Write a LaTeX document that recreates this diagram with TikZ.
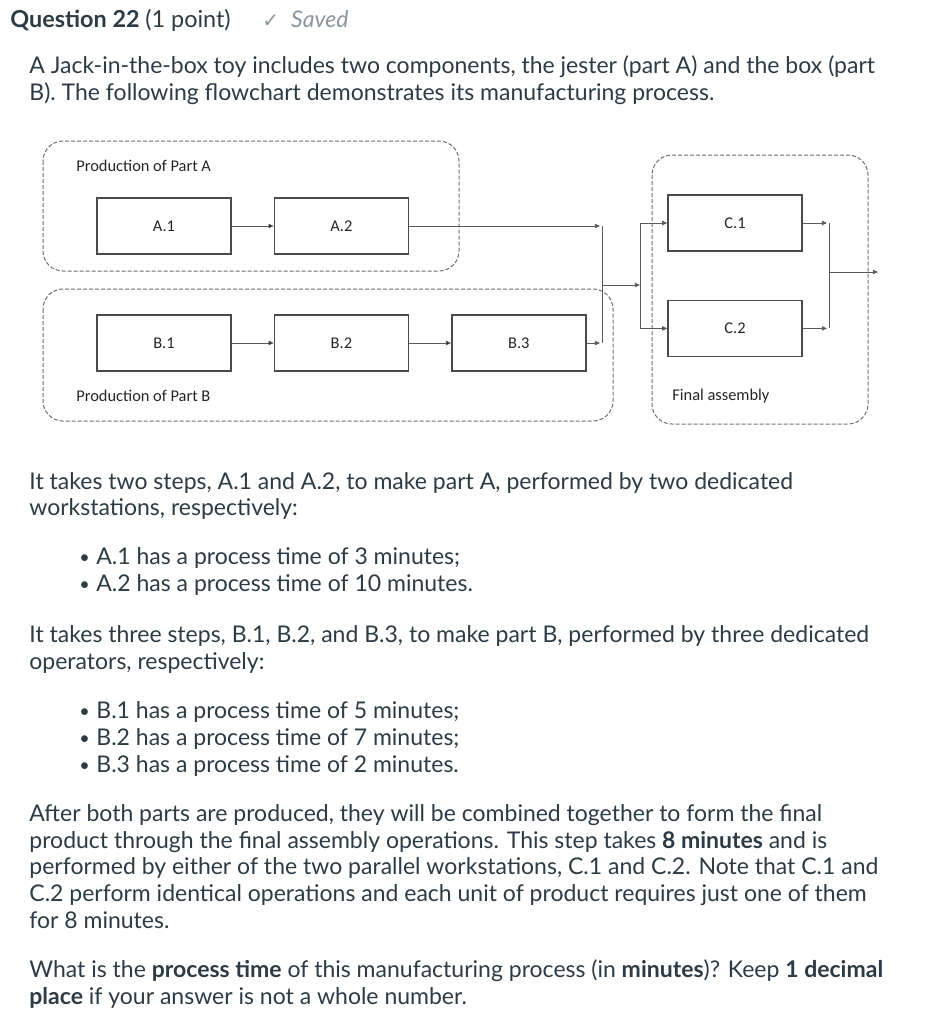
\documentclass[tikz,border=0pt]{standalone}
\usepackage{fontspec}
\setmainfont{Lato}
\newfontfamily\boxfont{Carlito}
\newfontfamily\symfont{DejaVu Sans}
\usetikzlibrary{positioning,arrows.meta}
\definecolor{ink}{HTML}{2D3B45}
\definecolor{muted}{HTML}{8B969E}
\definecolor{edge}{HTML}{4A4A4A}
\definecolor{dash}{HTML}{6E6E6E}
\definecolor{wire}{HTML}{5A5A5A}

\begin{document}
\begin{tikzpicture}[
  x=0.5pt, y=-0.5pt,
  stepbox/.style = {
    draw = edge,
    line width = 0.7pt,
    minimum width = 67pt,
    minimum height = 28pt,
    inner sep = 0pt,
    font = \boxfont\fontsize{8.2}{9}\selectfont,
    text = black!85,
  },
  group/.style = {
    draw = dash,
    line width = 0.5pt,
    dash pattern = on 2pt off 1pt,
    rounded corners = 10pt,
  },
  grouplabel/.style = {
    anchor = west,
    inner sep = 0pt,
    font = \boxfont\fontsize{8.2}{9}\selectfont,
    text = black!85,
  },
  flow/.style = {draw = wire, line width = 0.45pt},
  para/.style = {
    anchor = base west,
    inner sep = 0pt,
    font = \fontsize{11.5}{13}\selectfont,
    text = ink,
  },
  dot/.style = {
    anchor = base west,
    inner sep = 0pt,
    font = \fontsize{9}{11}\selectfont,
    text = ink,
  },
  >={Triangle[length=2.6pt,width=2.2pt]},
]
  \useasboundingbox[fill=white] (0,0) rectangle (931,1024);

  % heading
  \node[para, font=\bfseries\fontsize{11.7}{13}\selectfont] (head) at (10,27) {Question 22 {\mdseries (1 point)}};
  \node[para, text=muted] (saved) at (262,27) {{\symfont\fontsize{10}{11}\selectfont ✓}\hspace{6pt}\itshape Saved};

  \node[para] (intro1) at (29,73) {A Jack-in-the-box toy includes two components, the jester (part A) and the box (part};
  \node[para] (intro2) at (29,100) {B). The following flowchart demonstrates its manufacturing process.};

  % groups
  \draw[group] (43,141) rectangle (459,271);
  \draw[group] (43,289) rectangle (613,421);
  \draw[group] (652,155) rectangle (868,424);
  \node[grouplabel] (labA) at (76,166) {Production of Part A};
  \node[grouplabel] (labB) at (76,396) {Production of Part B};
  \node[grouplabel] (labC) at (672,396) {Final assembly};

  % steps
  \node[stepbox] (a1) at (164,226) {A.1};
  \node[stepbox] (a2) [right=21pt of a1] {A.2};
  \node[stepbox] (b1) at (164,343) {B.1};
  \node[stepbox] (b2) [right=21pt of b1] {B.2};
  \node[stepbox] (b3) [right=21pt of b2] {B.3};
  \node[stepbox] (c1) at (735,223) {C.1};
  \node[stepbox] (c2) [below=24pt of c1] {C.2};

  \path[flow,->] (a1) edge (a2);
  \path[flow,->] (b1) edge (b2);
  \path[flow,->] (b2) edge (b3);

  % merge of A and B
  \coordinate (mergeT) at (602,226);
  \coordinate (mergeB) at (602,343);
  \coordinate (merge) at (602,285);
  \coordinate (split) at (640,285);
  \draw[flow,->] (a2.east) -- ([xshift=-1pt]mergeT);
  \draw[flow,->] (b3.east) -- ([xshift=-1pt]mergeB);
  \draw[flow] (mergeT) -- (mergeB);
  \draw[flow,->] (merge) -- (split);
  \draw[flow] (split |- c1.west) -- (split |- c2.west);
  \draw[flow,->] (split |- c1.west) -- (c1.west);
  \draw[flow,->] (split |- c2.west) -- (c2.west);

  % join of C.1 and C.2
  \coordinate (joinT) at (829,223);
  \coordinate (joinB) at (829,323);
  \coordinate (join) at (829,272);
  \coordinate (exit) at (878,272);
  \draw[flow,->] (c1.east) -- ([xshift=-1pt]joinT |- c1.east);
  \draw[flow,->] (c2.east) -- ([xshift=-1pt]joinB |- c2.east);
  \draw[flow] (joinT |- c1.east) -- (joinB |- c2.east);
  \draw[flow,->] (join) -- (exit);

  % text below
  \node[para] (stepsA1) at (29,489) {It takes two steps, A.1 and A.2, to make part A, performed by two dedicated};
  \node[para] (stepsA2) at (29,515) {workstations, respectively:};
  \node[dot] (dotA1) at (79,563) {•};
  \node[para] (itemA1) at (96,564) {A.1 has a process time of 3 minutes;};
  \node[dot] (dotA2) at (79,590) {•};
  \node[para] (itemA2) at (96,591) {A.2 has a process time of 10 minutes.};

  \node[para] (stepsB1) at (29,642) {It takes three steps, B.1, B.2, and B.3, to make part B, performed by three dedicated};
  \node[para] (stepsB2) at (29,669) {operators, respectively:};
  \node[dot] (dotB1) at (79,717) {•};
  \node[para] (itemB1) at (96,718) {B.1 has a process time of 5 minutes;};
  \node[dot] (dotB2) at (79,744) {•};
  \node[para] (itemB2) at (96,745) {B.2 has a process time of 7 minutes;};
  \node[dot] (dotB3) at (79,771) {•};
  \node[para] (itemB3) at (96,772) {B.3 has a process time of 2 minutes.};

  \node[para] (final1) at (29,821) {After both parts are produced, they will be combined together to form the final};
  \node[para] (final2) at (29,848) {product through the final assembly operations. This step takes \textbf{8 minutes} and is};
  \node[para] (final3) at (29,874) {performed by either of the two parallel workstations, C.1 and C.2. Note that C.1 and};
  \node[para] (final4) at (29,901) {C.2 perform identical operations and each unit of product requires just one of them};
  \node[para] (final5) at (29,928) {for 8 minutes.};

  \node[para] (ask1) at (29,977) {What is the \textbf{process time} of this manufacturing process (in \textbf{minutes})? Keep \textbf{1 decimal}};
  \node[para] (ask2) at (29,1004) {\textbf{place} if your answer is not a whole number.};
\end{tikzpicture}
\end{document}
